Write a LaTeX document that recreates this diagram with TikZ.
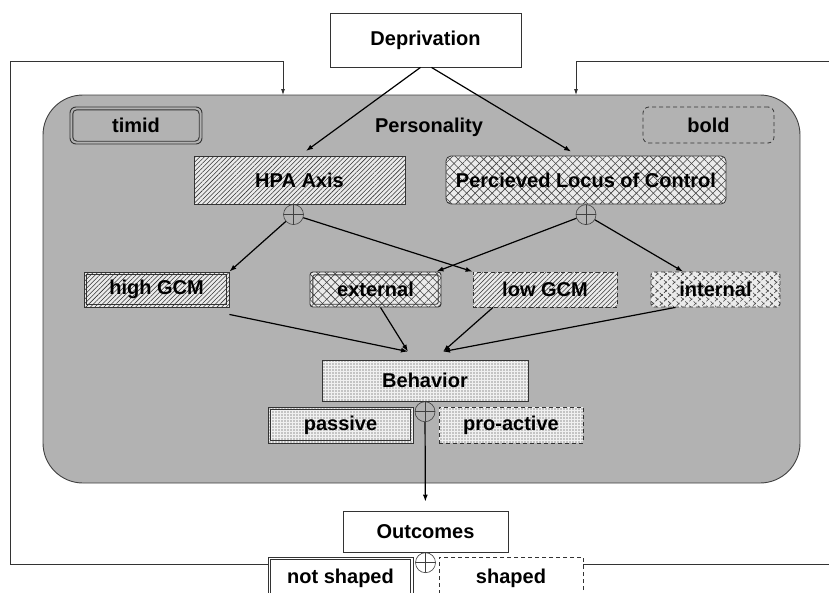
\documentclass[tikz,border=0pt]{standalone}
\usepackage{fontspec}
\setmainfont{Liberation Sans}
\usetikzlibrary{arrows.meta,positioning,calc,patterns.meta}

\begin{document}
\begin{tikzpicture}[
  x=1pt, y=-1pt,
  node distance=0pt,
  box/.style={draw=black!80, line width=0.8pt, font=\fontsize{20}{24}\selectfont\bfseries, align=center, inner sep=2pt, minimum height=35pt},
  plain/.style={fill=white},
  twin/.style={line width=0.9pt, path picture={\draw[black!80, line width=0.9pt, rounded corners=#1]
      ([shift={(2.8pt,-2.8pt)}]path picture bounding box.north west) rectangle ([shift={(-2.8pt,2.8pt)}]path picture bounding box.south east);}},
  twin/.default=0pt,
  dashbox/.style={dash pattern=on 4pt off 3pt},
  hatch/.style={preaction={fill=black!8}, pattern={Lines[angle=45,distance=3.2pt,line width=0.55pt]}, pattern color=black!80},
  xhatch/.style={preaction={fill=black!8}, preaction={pattern={Lines[angle=45,distance=6pt,line width=0.6pt]}, pattern color=black!75}, pattern={Lines[angle=-45,distance=6pt,line width=0.6pt]}, pattern color=black!75},
  dotfill/.style={preaction={fill=black!6}, pattern={Dots[distance=3pt,radius=0.55pt]}, pattern color=black!80},
  junction/.style={circle, draw=black!75, line width=0.6pt, minimum size=20pt, inner sep=0pt,
    path picture={\draw[black!75, line width=0.6pt] (path picture bounding box.north) -- (path picture bounding box.south)
      (path picture bounding box.west) -- (path picture bounding box.east);}},
  arrow/.style={-{Latex[length=7pt,width=5pt]}, line width=1.2pt, black},
  fb/.style={-{Latex[length=6pt,width=4pt]}, line width=0.8pt, black!80}
]
\useasboundingbox (0,0) rectangle (829,592);

% personality frame
\node[draw=black!75, line width=0.9pt, fill=black!30, rounded corners=40pt, minimum width=757pt, minimum height=388pt] (pers) at (421.5,289) {};
\node[box, draw=none] (perslbl) at (429,127) {Personality};

% top and bottom
\node[box, plain, minimum width=191pt, minimum height=54pt] (dep) at (425.5,40) {Deprivation};
\node[box, plain, minimum width=165pt, minimum height=41pt] (out) at (425.5,531.5) {Outcomes};

% traits
\node[box, twin=4pt, rounded corners=6pt, minimum width=132pt, minimum height=37pt] (timid) at (136,125.5) {timid};
\node[box, dashbox, rounded corners=6pt, minimum width=131pt, minimum height=36pt] (bold) at (708.5,125) {bold};

% mediators
\node[box, hatch, minimum width=211pt, minimum height=48pt] (hpa) at (299.5,180) {HPA Axis};
\node[box, xhatch, rounded corners=5pt, minimum width=280pt, minimum height=48pt] (plc) at (586,180) {Percieved Locus of Control};
\node[junction, below=of hpa, xshift=-6pt] (hpaj) {};
\node[junction, below=of plc] (plcj) {};

% second row
\node[box, twin, hatch, minimum width=145pt] (hgcm) at (156.5,289.5) {high GCM};
\node[box, twin=2pt, xhatch, rounded corners=3pt, minimum width=131pt] (ext) at (375.5,289.5) {external};
\node[box, dashbox, hatch, minimum width=144pt] (lgcm) at (545,289.5) {low GCM};
\node[box, dashbox, xhatch, rounded corners=3pt, minimum width=129pt] (int) at (715.5,289.5) {internal};

% behavior
\node[box, dotfill, minimum width=206pt, minimum height=41pt] (beh) at (425,380.5) {Behavior};
\node[junction, below=of beh] (behj) {};
\node[box, twin, dotfill, minimum width=145pt, minimum height=36pt] (pas) at (340.5,425) {passive};
\node[box, dashbox, dotfill, minimum width=144pt, minimum height=36pt] (pro) at (511,425) {pro-active};

% outcomes
\node[junction, below=of out] (outj) {};
\node[box, twin, plain, minimum width=145pt, minimum height=43pt] (nots) at (340.5,578.5) {not shaped};
\node[box, dashbox, plain, minimum width=144pt, minimum height=43pt] (shp) at (511,578.5) {shaped};

\coordinate (pin1) at (283,95);
\coordinate (pin2) at (576,95);
\coordinate (bin1) at ([xshift=-17pt,yshift=8pt]beh.north);
\coordinate (bin2) at ([xshift=18pt,yshift=8pt]beh.north);

% feedback
\draw[fb] ([yshift=-8pt]nots.north west) -| (10,61) -| (pin1);
\draw[fb] ([yshift=-8pt]shp.north east) -| (840,61) -| (pin2);

\draw[arrow, shorten >=8pt] ([xshift=-5pt]dep.south) -- (hpa.north);
\draw[arrow, shorten >=8pt] ([xshift=6pt]dep.south) -- ([xshift=-8pt]plc.north);
\draw[arrow] (hpaj) -- (hgcm.north east);
\draw[arrow] (hpaj) -- (lgcm.north west);
\draw[arrow] (plcj) -- ([xshift=-5pt]ext.north east);
\draw[arrow] (plcj) -- ($(int.north west)!0.25!(int.north east)$);
\draw[arrow] ([yshift=-7pt]hgcm.south east) -- (bin1);
\draw[arrow] ([xshift=5pt]ext.south) -- (bin1);
\draw[arrow] ([xshift=-52pt]lgcm.south) -- (bin2);
\draw[arrow] ([xshift=-40pt]int.south) -- (bin2);
\draw[arrow, shorten >=9pt] (behj) -- (out);
\end{tikzpicture}
\end{document}
